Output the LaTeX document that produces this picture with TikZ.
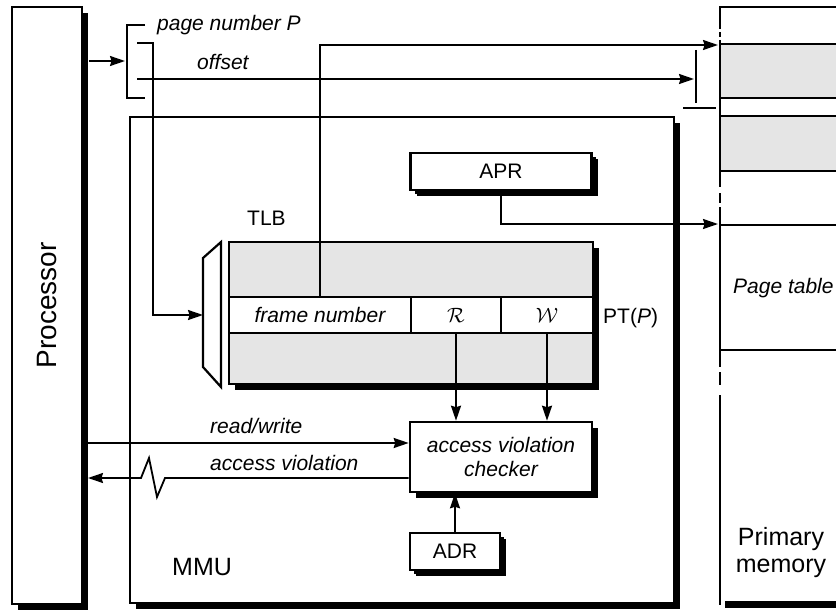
\documentclass[tikz,border=0pt]{standalone}
\usepackage{fontspec}
\setmainfont{Liberation Sans}
\usetikzlibrary{arrows.meta,shadows}

\tikzset{
  txt/.style={font=\fontsize{21}{24}\selectfont, inner sep=0pt},
  it/.style={font=\fontsize{21}{24}\selectfont\itshape, inner sep=0pt},
  bigtxt/.style={font=\fontsize{25}{29}\selectfont, inner sep=0pt},
  wire/.style={line width=1.8pt},
  arr/.style={wire, -{Stealth[length=15pt,width=10pt,inset=1.5pt]}},
  heavy/.style={line width=2.6pt},
  unit/.style={draw, heavy, fill=white, inner sep=0pt,
    drop shadow={shadow xshift=6pt, shadow yshift=-6pt, opacity=1, fill=black}},
  smallunit/.style={unit, drop shadow={shadow xshift=4pt, shadow yshift=-4pt, opacity=1, fill=black}},
  cell/.style={draw, heavy, fill=white, inner sep=0pt, minimum height=36pt},
  shade/.style={fill=black!10},
  edge/.style={line width=2.4pt},
}

\begin{document}
\begin{tikzpicture}[x=1pt,y=-1pt]
\useasboundingbox (0,0) rectangle (836,610);

% processor and MMU frames
\node[unit, minimum width=70pt, minimum height=597pt] (proc) at (47,305.5) {};
\node[font=\fontsize{28}{32}\selectfont, inner sep=0pt, rotate=90] (proclabel) at (proc.center) {Processor};
\node[unit, minimum width=544pt, minimum height=486pt] (mmu) at (402,360) {};
\node[bigtxt, anchor=base west] (mmulabel) at (172,575) {MMU};

% primary memory column, running off the right edge
\begin{scope}
  \clip (0,0) rectangle (836,610);
  \fill[shade] (720,44) rectangle (850,98);
  \fill[shade] (720,116) rectangle (850,171);
  \draw[heavy] (720,44) -- (850,44);
  \draw[heavy] (720,98) -- (850,98);
  \draw[heavy] (720,116) -- (850,116);
  \draw[heavy] (720,171) -- (850,171);
  \draw[line width=2pt] (720,225) -- (850,225);
  \draw[heavy] (720,350) -- (850,350);
  \fill (725,601) rectangle (850,608);
  % left edge with break marks
  \draw[edge] (850,7) -- (720,7) -- (720,29);
  \draw[edge] (720,32) -- (720,37);
  \draw[edge] (720,40) -- (720,187);
  \draw[edge] (720,193) -- (720,203);
  \draw[edge] (720,207) -- (720,367);
  \draw[edge] (720,372) -- (720,385);
  \draw[edge] (720,395) -- (720,605);
\end{scope}
\node[it, anchor=base west] (ptablabel) at (733,293) {Page table};
\node[bigtxt, anchor=base] (pmlabel1) at (781,545) {Primary};
\node[bigtxt, anchor=base] (pmlabel2) at (781,572) {memory};

% TLB
\node[unit, fill=black!10, minimum width=364pt, minimum height=142pt] (tlb) at (411,313) {};
\node[cell, it, minimum width=182pt] (fn) at (320,315) {frame number};
\node[cell, font=\fontsize{22}{24}\selectfont, minimum width=90pt] (rc) at (456,315) {$\mathcal{R}$};
\node[cell, font=\fontsize{22}{24}\selectfont, minimum width=92pt] (wc) at (547,315) {$\mathcal{W}$};
\node[txt, anchor=base west] (tlblabel) at (247,225) {TLB};
\node[txt, anchor=base west] (ptlabel) at (603,323) {PT(\textit{P})};
\draw[line width=2.2pt, fill=white] (203,258) -- (221,242) -- (221,387) -- (203,367) -- cycle;
\coordinate (sel) at (203,315);

% registers and checker
\node[smallunit, txt, minimum width=181pt, minimum height=37pt] (apr) at (501,171.5) {APR};
\node[unit, it, align=center, minimum width=182pt, minimum height=70pt] (chk) at (501,457) {access violation\\checker};
\node[smallunit, txt, minimum width=90pt, minimum height=37pt] (adr) at (455,551.5) {ADR};

% virtual address brackets
\draw[wire] (145,25) -- (127,25) -- (127,98) -- (145,98);
\node[it, anchor=base west] (pnlabel) at (157,31) {page number P};
\node[it, anchor=base west] (offlabel) at (197,70) {offset};
\coordinate (addr) at (125,61);
\draw[arr] (addr -| proc.east) ++(6,0) -- (addr);
\coordinate (pnum) at (137,43);
\coordinate (pbend) at (153,315);
\draw[arr] (pnum) -| (pbend) -- (sel);
\coordinate (offs) at (137,79);
\coordinate (offtip) at (694,79);
\draw[arr] (offs) -- (offtip);
\draw[wire] (696,50) -- (696,103);
\draw[wire] (683,108) -- (716,108);

% translation paths into memory
\coordinate (frame) at (718,45);
\draw[arr] (fn.north) |- (frame);
\coordinate (ptab) at (718,224);
\draw[arr] (apr.south) |- (ptab);

% protection check
\draw[arr] (rc.south) -- (rc.south |- chk.north);
\draw[arr] (wc.south) -- (wc.south |- chk.north);
\draw[arr] (adr.north) -- (adr.north |- chk.south);
\coordinate (rw) at (88,443);
\draw[arr] (rw) -- (chk.west |- rw);
\node[it, anchor=base west] (rwlabel) at (210,433) {read/write};
\coordinate (av) at (88,478);
\draw[arr] (chk.west |- av) -- (165,478) -- (157,497) -- (149,458) -- (141,478) -- (av);
\node[it, anchor=base west] (avlabel) at (210,470) {access violation};
\end{tikzpicture}
\end{document}
